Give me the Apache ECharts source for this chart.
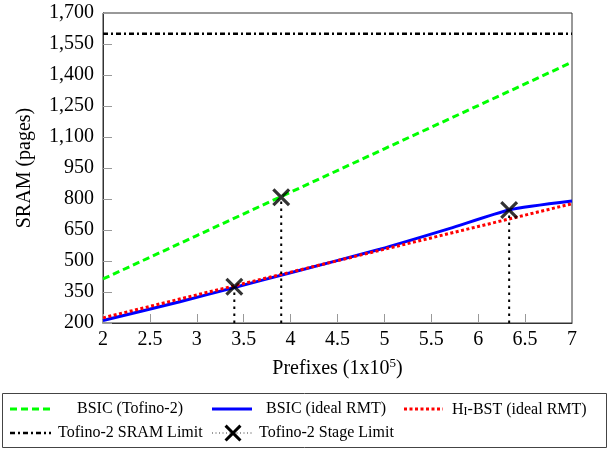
<!DOCTYPE html>
<html><head><meta charset="utf-8">
<script src="https://cdn.jsdelivr.net/npm/echarts/dist/echarts.min.js"></script>
<style>html,body{margin:0;padding:0;background:#fff}#c{width:609px;height:450px}</style>
</head><body><div id="c"></div>
<script>
// ---- data ----
const xTickValues = [2, 2.5, 3, 3.5, 4, 4.5, 5, 5.5, 6, 6.5, 7];
const yTickValues = [200, 350, 500, 650, 800, 950, 1100, 1250, 1400, 1550, 1700];
const greenX = [2, 3, 4, 5, 6, 7];
const greenY = [413, 623, 833, 1043, 1252, 1462];
const blueX = [2, 2.82, 3.4, 4, 4.95, 5.7, 6.33, 7];
const blueY = [212, 303, 372, 443, 557, 658, 747, 790];
const redX = [2, 3, 4, 5, 6, 7];
const redY = [225, 336, 446, 557, 667, 777];
const limitX = [2, 7];
const limitY = [1600, 1600];
const stageX = [3.4, 3.9, 6.33];
const stageY = [375, 808, 747];
const seriesNames = ['BSIC (Tofino-2)', 'BSIC (ideal RMT)', 'Hi-BST (ideal RMT)', 'Tofino-2 SRAM Limit', 'Tofino-2 Stage Limit'];

const FONT = "'Liberation Serif','DejaVu Serif',serif";
const XPTS = [[2.5,0],[10,7.5],[17.5,0],[20,2.5],[12.5,10],[20,17.5],[17.5,20],[10,12.5],[2.5,20],[0,17.5],[7.5,10],[0,2.5]];
const XPATH = 'M' + XPTS.map(p => p.join(',')).join(' L') + ' Z';
const zip = (a, b) => a.map((v, i) => [v, b[i]]);

const chart = echarts.init(document.getElementById('c'), null, {renderer: 'canvas'});

const stageLines = stageX.map((x, i) => ({
  type: 'line', data: [[x, yTickValues[0]], [x, stageY[i]]], symbol: 'none',
  lineStyle: {color: '#000', width: 2, type: [2.5, 4.5]}, z: 3, silent: true, animation: false
}));

const legendY1 = 409, legendY2 = 433;
const xs = 17 / 20;
const legendX = XPTS.map(p => [224.5 + p[0] * xs, legendY2 - 8.5 + p[1] * xs]);
const graphic = [
  {type: 'rect', shape: {x: 2.5, y: 393.5, width: 604, height: 54}, style: {fill: 'none', stroke: '#444', lineWidth: 1}},
  {type: 'line', shape: {x1: 10, y1: legendY1, x2: 51, y2: legendY1}, style: {stroke: '#00ff00', lineWidth: 3, lineDash: [7, 4]}},
  {type: 'text', x: 77, y: legendY1, style: {text: seriesNames[0], font: '16px ' + FONT, fill: '#000', verticalAlign: 'middle'}},
  {type: 'line', shape: {x1: 212, y1: legendY1, x2: 252, y2: legendY1}, style: {stroke: '#0000ff', lineWidth: 3}},
  {type: 'text', x: 266, y: legendY1, style: {text: seriesNames[1], font: '16px ' + FONT, fill: '#000', verticalAlign: 'middle'}},
  {type: 'line', shape: {x1: 404, y1: legendY1, x2: 443, y2: legendY1}, style: {stroke: '#ff0000', lineWidth: 3, lineDash: [3, 2.5]}},
  {type: 'text', x: 452, y: legendY1, style: {
    text: '{a|H}{b|I}{a|-BST (ideal RMT)}', verticalAlign: 'middle', fill: '#000',
    rich: {a: {fontFamily: FONT, fontSize: 16, fill: '#000', verticalAlign: 'bottom', lineHeight: 18},
           b: {fontFamily: FONT, fontSize: 12, fill: '#000', verticalAlign: 'bottom', lineHeight: 18}}}},
  {type: 'line', shape: {x1: 10, y1: legendY2, x2: 51, y2: legendY2}, style: {stroke: '#000', lineWidth: 2.5, lineDash: [5, 3, 2, 3]}},
  {type: 'text', x: 58, y: legendY2, style: {text: seriesNames[3], font: '16px ' + FONT, fill: '#000', verticalAlign: 'middle'}},
  {type: 'line', shape: {x1: 212, y1: legendY2, x2: 253, y2: legendY2}, style: {stroke: '#000', lineWidth: 0.8, lineDash: [1, 2.5]}},
  {type: 'polygon', shape: {points: legendX}, style: {fill: '#000'}},
  {type: 'text', x: 259, y: legendY2, style: {text: seriesNames[4], font: '16px ' + FONT, fill: '#000', verticalAlign: 'middle'}}
];

const option = {
  animation: false,
  backgroundColor: '#fff',
  grid: {left: 103, right: 37, top: 13, bottom: 127, show: true, borderColor: '#333', borderWidth: 1, containLabel: false},
  xAxis: {
    type: 'value', min: xTickValues[0], max: xTickValues[xTickValues.length - 1], interval: 0.5,
    name: '{n|Prefixes (1x10}{s|5}{n|)}', nameLocation: 'middle', nameGap: 34,
    nameTextStyle: {rich: {
      n: {fontFamily: FONT, fontSize: 20, color: '#000', lineHeight: 22, verticalAlign: 'bottom'},
      s: {fontFamily: FONT, fontSize: 13, color: '#000', lineHeight: 22, verticalAlign: 'top'}}},
    axisLine: {lineStyle: {color: '#333', width: 1}},
    axisTick: {inside: true, length: 9, lineStyle: {color: '#999'}},
    axisLabel: {fontFamily: FONT, fontSize: 20, color: '#000', margin: 7},
    splitLine: {show: false}
  },
  yAxis: {
    type: 'value', min: yTickValues[0], max: yTickValues[yTickValues.length - 1], interval: 150,
    name: 'SRAM (pages)', nameLocation: 'middle', nameGap: 68,
    nameTextStyle: {fontFamily: FONT, fontSize: 20, color: '#000'},
    axisLine: {lineStyle: {color: '#333', width: 1}},
    axisTick: {inside: true, length: 9, lineStyle: {color: '#999'}},
    axisLabel: {fontFamily: FONT, fontSize: 20, color: '#000', margin: 9,
      formatter: v => v.toLocaleString('en-US')},
    splitLine: {show: false}
  },
  graphic: graphic,
  series: [
    {name: seriesNames[0], type: 'line', data: zip(greenX, greenY), symbol: 'none',
     lineStyle: {color: '#00ff00', width: 3, type: [7, 4]}, z: 2},
    {name: seriesNames[1], type: 'line', data: zip(blueX, blueY), symbol: 'none', smooth: 0.2,
     lineStyle: {color: '#0000ff', width: 3}, z: 2},
    {name: seriesNames[2], type: 'line', data: zip(redX, redY), symbol: 'none',
     lineStyle: {color: '#ff0000', width: 3, type: [3, 2.5]}, z: 3},
    {name: seriesNames[3], type: 'line', data: zip(limitX, limitY), symbol: 'none',
     lineStyle: {color: '#000', width: 2.5, type: [5, 3, 2, 3]}, z: 3},
    ...stageLines,
    {name: seriesNames[4], type: 'scatter', data: zip(stageX, stageY), symbol: 'path://' + XPATH, symbolSize: 18,
     itemStyle: {color: '#000'}, z: 5}
  ]
};
chart.setOption(option);
</script></body></html>
